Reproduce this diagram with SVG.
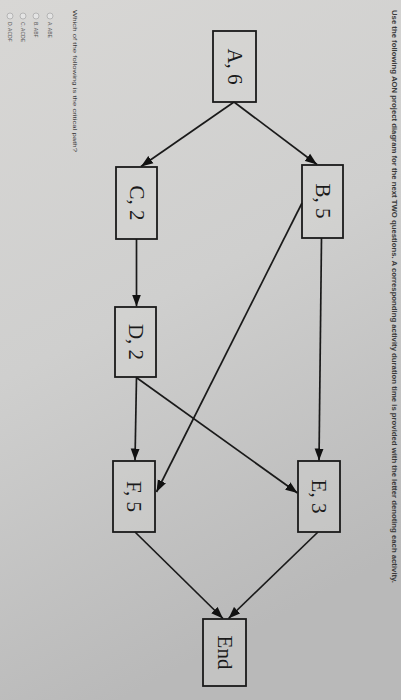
<svg xmlns="http://www.w3.org/2000/svg" width="401" height="700" viewBox="0 0 401 700">
<defs>
<linearGradient id="bg" x1="0" y1="0" x2="0.3" y2="1">
<stop offset="0" stop-color="#d8d7d5"/>
<stop offset="0.5" stop-color="#cfcfce"/>
<stop offset="1" stop-color="#b9b9b9"/>
</linearGradient>
<marker id="arr" viewBox="0 0 12 10" refX="12" refY="5" markerWidth="12" markerHeight="10" markerUnits="userSpaceOnUse" orient="auto">
<path d="M0,0.5 L12,5 L0,9.5 z" fill="#111"/>
</marker>
<style>
.box{fill:#d6d6d5;fill-opacity:0.35;stroke:#1a1a1a;stroke-width:1.8}
.lbl{font-family:"Liberation Serif","Times New Roman",serif;font-size:21px;fill:#1a1a1a;text-anchor:middle}
.edge{stroke:#1a1a1a;stroke-width:1.7;fill:none;marker-end:url(#arr)}
.q{font-family:"Liberation Sans",Arial,sans-serif;fill:#3a3a3a}
.opt{font-family:"Liberation Sans",Arial,sans-serif;font-size:5px;fill:#555}
.rad{fill:#e4e4e4;stroke:#9a9a9a;stroke-width:0.6}
</style>
</defs>
<rect x="0" y="0" width="401" height="700" fill="url(#bg)"/>

<g id="texts">
<text class="q" font-size="7.2" font-weight="bold" transform="translate(394,10) rotate(90)" dy="2.5" textLength="573" lengthAdjust="spacingAndGlyphs">Use the following AON project diagram for the next TWO questions. A corresponding activity duration time is provided with the letter denoting each activity.</text>
<text class="q" font-size="6" transform="translate(75,10) rotate(90)" dy="2.1" textLength="142" lengthAdjust="spacingAndGlyphs">Which of the following is the critical path?</text>
</g>

<g id="options">
<circle class="rad" cx="50" cy="16" r="3"/>
<text class="opt" transform="translate(50,22) rotate(90)" dy="1.8">A. ABE</text>
<circle class="rad" cx="36" cy="16" r="3"/>
<text class="opt" transform="translate(36,22) rotate(90)" dy="1.8">B. ABF</text>
<circle class="rad" cx="23" cy="16" r="3"/>
<text class="opt" transform="translate(23,22) rotate(90)" dy="1.8">C. ACDE</text>
<circle class="rad" cx="10" cy="16" r="3"/>
<text class="opt" transform="translate(10,22) rotate(90)" dy="1.8">D. ACDF</text>
</g>

<g id="connectors">
<line class="edge" x1="234" y1="102" x2="141" y2="166.5"/>
<line class="edge" x1="234" y1="102" x2="317" y2="164.5"/>
<line class="edge" x1="321.5" y1="238" x2="319" y2="460.5"/>
<line class="edge" x1="302" y1="203" x2="156.5" y2="492"/>
<line class="edge" x1="136.5" y1="239" x2="136.5" y2="306.5"/>
<line class="edge" x1="136.5" y1="377" x2="135" y2="460.5"/>
<line class="edge" x1="137" y1="378" x2="297.5" y2="493"/>
<line class="edge" x1="135" y1="532" x2="223" y2="618.5"/>
<line class="edge" x1="318" y1="532" x2="228.5" y2="618.5"/>
</g>

<g id="node-A">
<rect class="box" x="213" y="31" width="43" height="71"/>
<text class="lbl" transform="translate(234.5,66.5) rotate(90)" dy="7">A, 6</text>
</g>
<g id="node-B">
<rect class="box" x="302" y="165" width="41" height="73"/>
<text class="lbl" transform="translate(322.5,201) rotate(90)" dy="7">B, 5</text>
</g>
<g id="node-C">
<rect class="box" x="116" y="167" width="41" height="72"/>
<text class="lbl" transform="translate(136.5,203) rotate(90)" dy="7">C, 2</text>
</g>
<g id="node-D">
<rect class="box" x="115" y="307" width="41" height="70"/>
<text class="lbl" transform="translate(135.5,342) rotate(90)" dy="7">D, 2</text>
</g>
<g id="node-E">
<rect class="box" x="298" y="461" width="42" height="71"/>
<text class="lbl" transform="translate(319,496.5) rotate(90)" dy="7">E, 3</text>
</g>
<g id="node-F">
<rect class="box" x="113" y="461" width="42" height="71"/>
<text class="lbl" transform="translate(134,496.5) rotate(90)" dy="7">F, 5</text>
</g>
<g id="node-End">
<rect class="box" x="203" y="619" width="43" height="67"/>
<text class="lbl" transform="translate(224.5,652.5) rotate(90)" dy="7">End</text>
</g>
</svg>
